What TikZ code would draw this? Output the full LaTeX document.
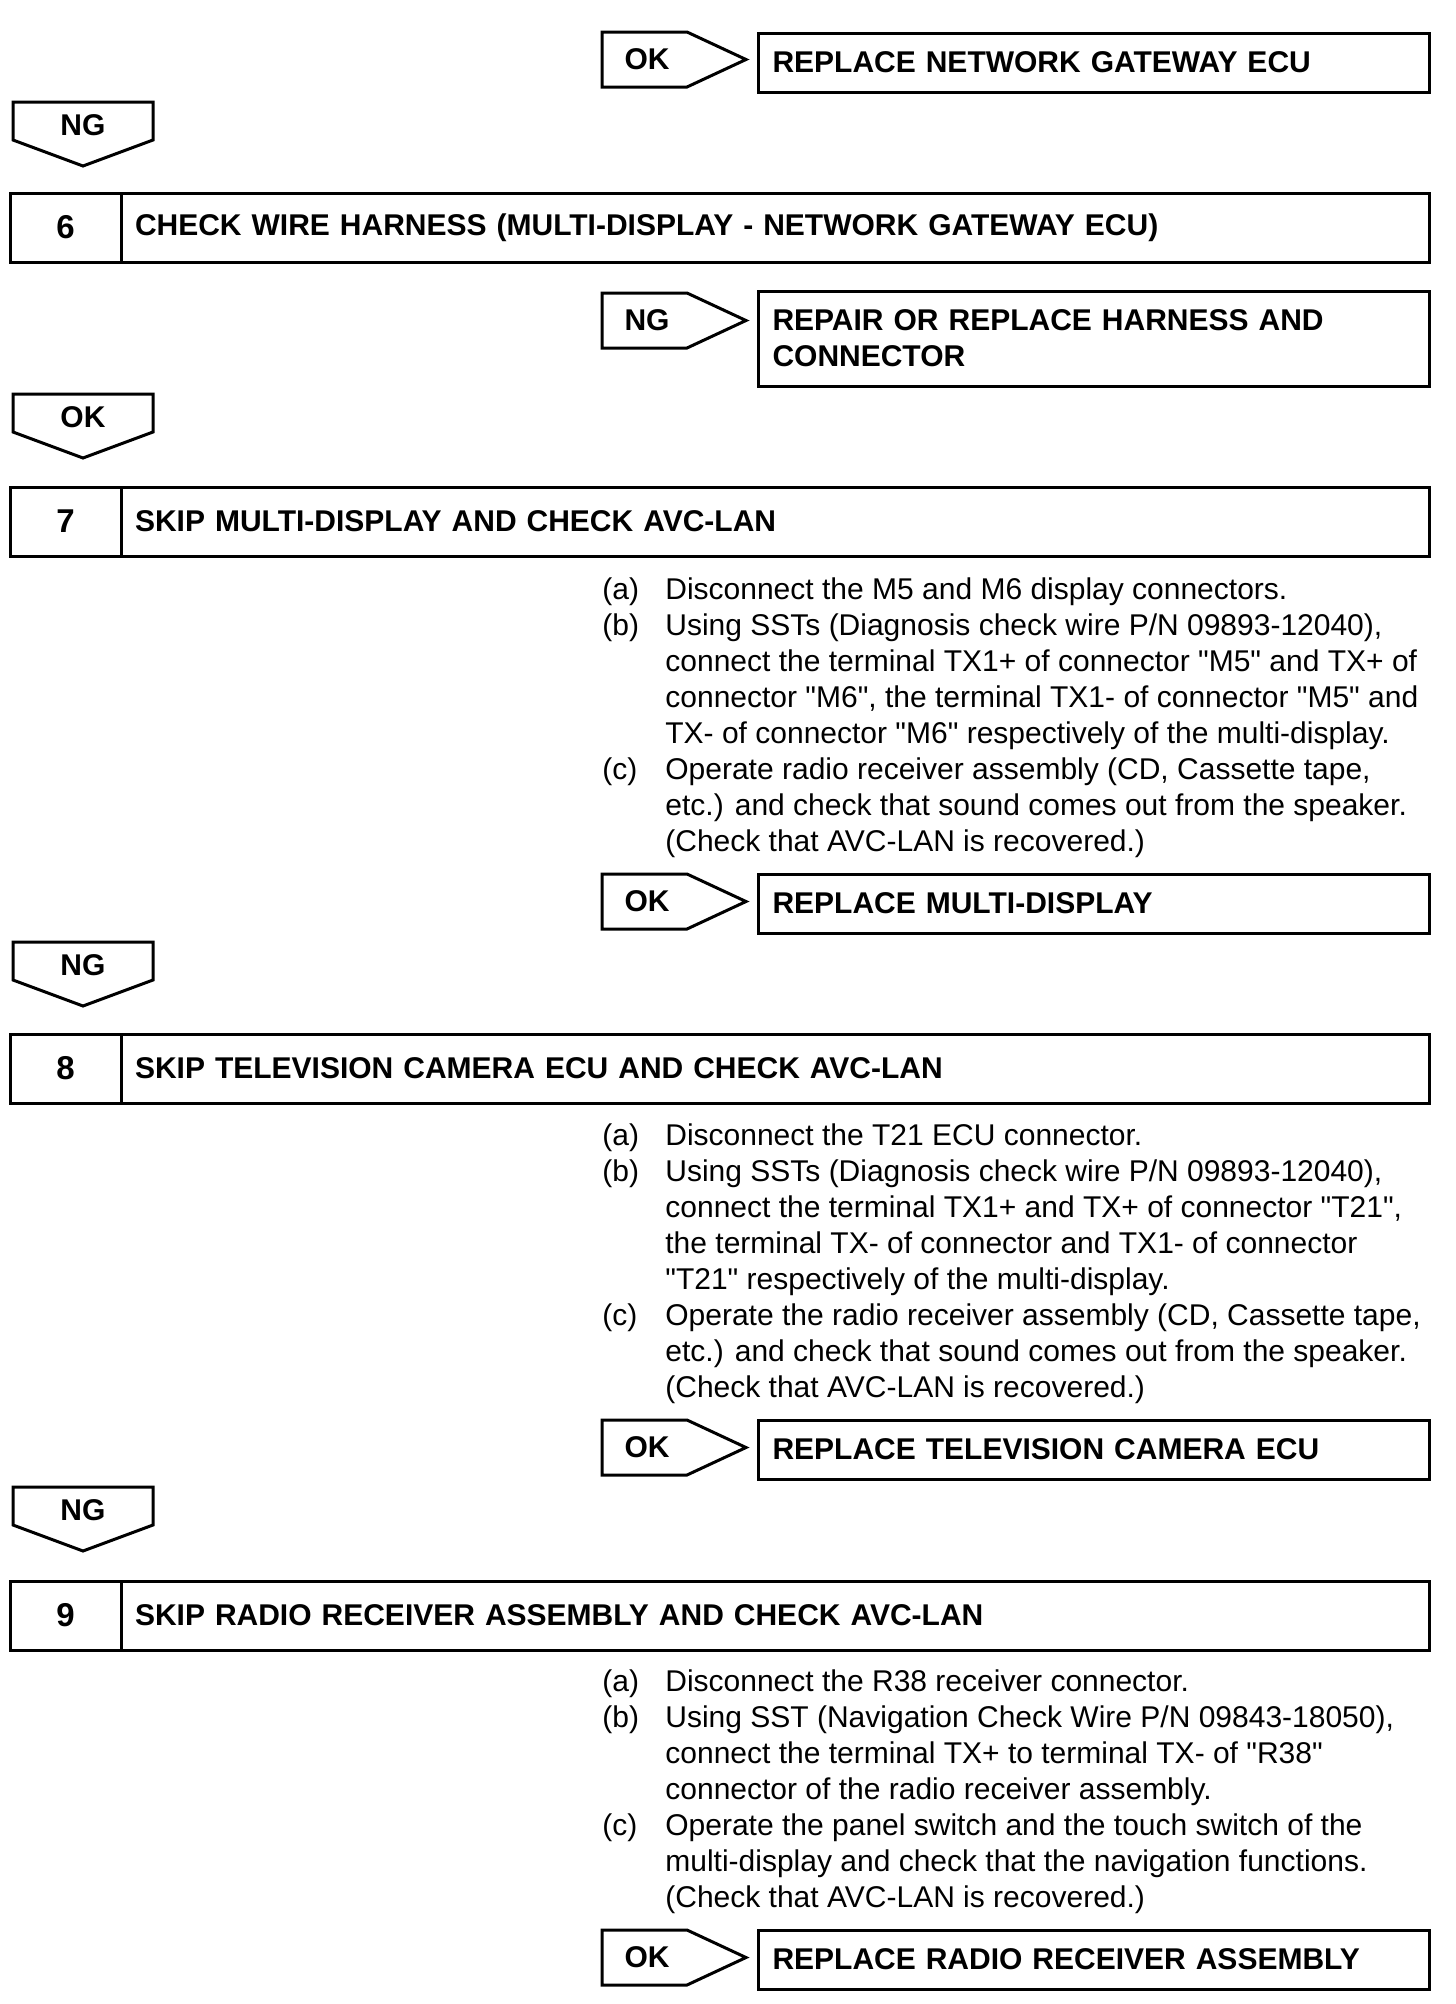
\documentclass[tikz,border=0pt]{standalone}
\usepackage{fontspec}
\setmainfont{Liberation Sans}
\usepackage{tikz}
\usetikzlibrary{positioning}

\newcommand{\conn}[1]{\textquotedbl#1\textquotedbl}
\newcommand{\tagright}[4]{%
  \draw[tagline] (#2,#3) -- ++(42.5,0) -- ++(29.5,13.75) -- ++(-29.5,13.75) -- ++(-42.5,0) -- cycle;
  \node[tagtext] (#1) at (#2+22.5,#3+13.75) {#4};}
\newcommand{\tagdown}[3]{%
  \draw[tagline] (6.5,#2) -- (76.5,#2) -- (76.5,#2+19) -- (41.5,#2+32) -- (6.5,#2+19) -- cycle;
  \node[tagtext] (#1) at (41.5,#2+11.5) {#3};}

\begin{document}
\begin{tikzpicture}[x=1pt, y=-1pt,
    tagline/.style={line width=1.5pt, line join=miter},
    tagtext/.style={font=\fontsize{15}{17}\selectfont\bfseries, inner sep=0pt},
    numcell/.style={draw, line width=1.5pt, outer sep=0pt, minimum width=55.5pt,
      minimum height=34.5pt, font=\fontsize{16.5}{19}\selectfont\bfseries},
    titlecell/.style={draw, line width=1.5pt, outer sep=0pt, minimum width=654pt,
      minimum height=34.5pt, text width=640pt, align=left,
      font=\fontsize{15}{17}\selectfont\bfseries},
    resultbox/.style={draw, line width=1.5pt, outer sep=0pt, minimum width=335.5pt,
      text width=321pt, inner xsep=7pt, align=left,
      font=\fontsize{15}{18}\selectfont\bfseries},
    stepsbox/.style={anchor=north west, inner sep=0pt, align=left,
      font=\fontsize{15}{18}\selectfont}]
  \useasboundingbox (0,0) rectangle (728,1002);

  % result of step 5
  \tagright{ok5}{301}{16}{OK}
  \node[resultbox, minimum height=29.5pt, anchor=north west] (gw) at (379,16.5) {REPLACE NETWORK GATEWAY ECU};
  \tagdown{ng5}{51}{NG}

  % step 6
  \node[numcell, anchor=north west] (n6) at (5,96.5) {6};
  \node[titlecell, right=0pt of n6] (t6) {CHECK WIRE HARNESS (MULTI-DISPLAY - NETWORK GATEWAY ECU)};
  \tagright{ng6}{301}{146.5}{NG}
  \node[resultbox, minimum height=47.5pt, anchor=north west] (harness) at (379,145.5) {REPAIR OR REPLACE HARNESS AND\\CONNECTOR};
  \tagdown{ok6}{197}{OK}

  % step 7
  \node[numcell, anchor=north west] (n7) at (5,243.5) {7};
  \node[titlecell, right=0pt of n7] (t7) {SKIP MULTI-DISPLAY AND CHECK AVC-LAN};
  \node[stepsbox] (p7) at (301,287) {%
    \begin{tabular}{@{}p{31.5pt}@{}l@{}}
      (a) & Disconnect the M5 and M6 display connectors.\\
      (b) & Using SSTs (Diagnosis check wire P/N 09893-12040),\\
          & connect the terminal TX1+ of connector \conn{M5} and TX+ of\\
          & connector \conn{M6}, the terminal TX1- of connector \conn{M5} and\\
          & TX- of connector \conn{M6} respectively of the multi-display.\\
      (c) & Operate radio receiver assembly (CD, Cassette tape,\\
          & etc.) and check that sound comes out from the speaker.\\
          & (Check that AVC-LAN is recovered.)
    \end{tabular}};
  \tagright{ok7}{301}{437}{OK}
  \node[resultbox, minimum height=29.5pt, anchor=north west] (md) at (379,437) {REPLACE MULTI-DISPLAY};
  \tagdown{ng7}{471}{NG}

  % step 8
  \node[numcell, anchor=north west] (n8) at (5,517) {8};
  \node[titlecell, right=0pt of n8] (t8) {SKIP TELEVISION CAMERA ECU AND CHECK AVC-LAN};
  \node[stepsbox] (p8) at (301,560) {%
    \begin{tabular}{@{}p{31.5pt}@{}l@{}}
      (a) & Disconnect the T21 ECU connector.\\
      (b) & Using SSTs (Diagnosis check wire P/N 09893-12040),\\
          & connect the terminal TX1+ and TX+ of connector \conn{T21},\\
          & the terminal TX- of connector and TX1- of connector\\
          & \conn{T21} respectively of the multi-display.\\
      (c) & Operate the radio receiver assembly (CD, Cassette tape,\\
          & etc.) and check that sound comes out from the speaker.\\
          & (Check that AVC-LAN is recovered.)
    \end{tabular}};
  \tagright{ok8}{301}{710}{OK}
  \node[resultbox, minimum height=29.5pt, anchor=north west] (cam) at (379,710) {REPLACE TELEVISION CAMERA ECU};
  \tagdown{ng8}{743.5}{NG}

  % step 9
  \node[numcell, anchor=north west] (n9) at (5,790.5) {9};
  \node[titlecell, right=0pt of n9] (t9) {SKIP RADIO RECEIVER ASSEMBLY AND CHECK AVC-LAN};
  \node[stepsbox] (p9) at (301,833) {%
    \begin{tabular}{@{}p{31.5pt}@{}l@{}}
      (a) & Disconnect the R38 receiver connector.\\
      (b) & Using SST (Navigation Check Wire P/N 09843-18050),\\
          & connect the terminal TX+ to terminal TX- of \conn{R38}\\
          & connector of the radio receiver assembly.\\
      (c) & Operate the panel switch and the touch switch of the\\
          & multi-display and check that the navigation functions.\\
          & (Check that AVC-LAN is recovered.)
    \end{tabular}};
  \tagright{ok9}{301}{965}{OK}
  \node[resultbox, minimum height=29.5pt, anchor=north west] (radio) at (379,965) {REPLACE RADIO RECEIVER ASSEMBLY};
\end{tikzpicture}
\end{document}
